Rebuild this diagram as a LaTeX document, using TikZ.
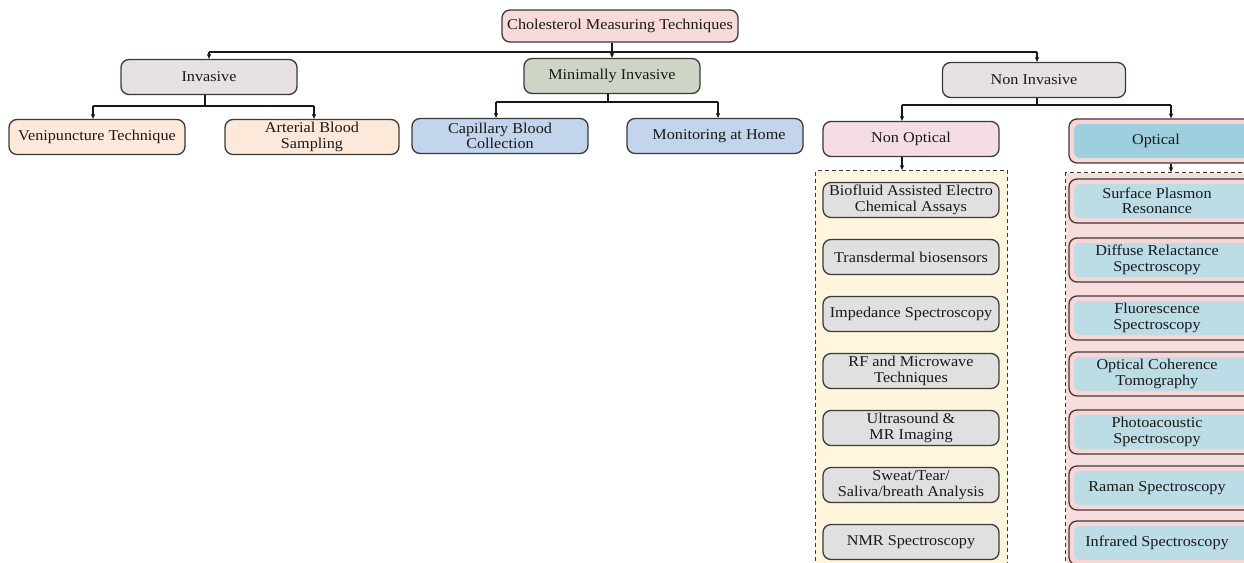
\documentclass[tikz,border=0pt]{standalone}
\usepackage{fontspec}
\setmainfont{Liberation Serif}[FakeStretch=1.08]
\usetikzlibrary{arrows.meta}
\definecolor{bd}{HTML}{3A3A3A}
\definecolor{rootc}{HTML}{F9DADA}
\definecolor{invc}{HTML}{E7E1E1}
\definecolor{minc}{HTML}{CDD6C6}
\definecolor{peach}{HTML}{FDE9DA}
\definecolor{capc}{HTML}{C3D4ED}
\definecolor{nonoc}{HTML}{F5DDE8}
\definecolor{grayc}{HTML}{E0E0E0}
\definecolor{yelc}{HTML}{FFF6DD}
\definecolor{pinkc}{HTML}{F7DDDD}
\definecolor{optout}{HTML}{F8D6D6}
\definecolor{opthead}{HTML}{9ECFDF}
\definecolor{optitem}{HTML}{BCDCE6}
\tikzset{
  box/.style={draw=bd, line width=1.3pt, rounded corners=8pt, minimum width=176pt,
    minimum height=35pt, inner sep=0pt, align=center,
    font=\fontsize{15}{15.5}\selectfont, text=black!90},
  optbox/.style={box, fill=optout, minimum height=44pt, minimum width=182pt,
    path picture={\fill[#1, rounded corners=6pt]
      ([shift={(5pt,-5pt)}]path picture bounding box.north west) rectangle
      ([shift={(-5pt,5pt)}]path picture bounding box.south east);}},
  conn/.style={draw=black!90, line width=1.4pt},
  arr/.style={conn, -{Stealth[length=5pt,width=4.5pt]}},
  dashbox/.style={draw=bd, line width=1.2pt, dash pattern=on 4pt off 3pt}
}
\begin{document}
\begin{tikzpicture}[x=1pt,y=-1pt]
\useasboundingbox (0,0) rectangle (1244,562);
\clip (0,0) rectangle (1244,562);
% dashed containers
\node[dashbox, fill=yelc, minimum width=192pt, minimum height=420pt, inner sep=0pt, anchor=north west] (yb) at (815,170) {};
\node[dashbox, fill=pinkc, minimum width=200pt, minimum height=420pt, inner sep=0pt, anchor=north west] (pb) at (1065,172) {};
% level 0
\node[box, fill=rootc, minimum width=236pt, minimum height=32pt] (root) at (620,26) {Cholesterol Measuring Techniques};
% level 1
\node[box, fill=invc] (inv) at (209,77) {Invasive};
\node[box, fill=minc] (mi) at (612,76) {Minimally Invasive};
\node[box, fill=invc, minimum width=183pt] (ni) at (1034,80) {Non Invasive};
% level 2
\node[box, fill=peach] (ven) at (97,137) {Venipuncture Technique};
\node[box, fill=peach, minimum width=174pt] (art) at (312,137) {Arterial Blood\\Sampling};
\node[box, fill=capc] (cap) at (500,136) {Capillary Blood\\Collection};
\node[box, fill=capc] (mon) at (715,136) {\hspace*{8pt}Monitoring at Home};
\node[box, fill=nonoc] (no) at (911,139) {Non Optical};
\node[optbox=opthead, minimum width=190pt] (op) at (1164,141) {\hspace*{-16pt}Optical};
% non optical items
\node[box, fill=grayc] (n1) at (911,200) {Biofluid Assisted Electro\\Chemical Assays};
\node[box, fill=grayc] (n2) at (911,257) {Transdermal biosensors};
\node[box, fill=grayc] (n3) at (911,314) {Impedance Spectroscopy};
\node[box, fill=grayc] (n4) at (911,371) {RF and Microwave\\Techniques};
\node[box, fill=grayc] (n5) at (911,428) {Ultrasound \&\\MR Imaging};
\node[box, fill=grayc] (n6) at (911,485) {Sweat/Tear/\\Saliva/breath Analysis};
\node[box, fill=grayc] (n7) at (911,542) {NMR Spectroscopy};
% optical items
\node[optbox=optitem, minimum width=190pt] (o1) at (1164,201) {\hspace*{-14pt}Surface Plasmon\\\hspace*{-14pt}Resonance};
\node[optbox=optitem, minimum width=190pt] (o2) at (1164,260) {\hspace*{-14pt}Diffuse Relactance\\\hspace*{-14pt}Spectroscopy};
\node[optbox=optitem, minimum width=190pt] (o3) at (1164,318) {\hspace*{-14pt}Fluorescence\\\hspace*{-14pt}Spectroscopy};
\node[optbox=optitem, minimum width=190pt] (o4) at (1164,374) {\hspace*{-14pt}Optical Coherence\\\hspace*{-14pt}Tomography};
\node[optbox=optitem, minimum width=190pt] (o5) at (1164,432) {\hspace*{-14pt}Photoacoustic\\\hspace*{-14pt}Spectroscopy};
\node[optbox=optitem, minimum width=190pt] (o6) at (1164,488) {\hspace*{-14pt}Raman Spectroscopy};
\node[optbox=optitem, minimum width=190pt] (o7) at (1164,543) {\hspace*{-14pt}Infrared Spectroscopy};
% connectors level 0 -> 1
\coordinate (b0) at (0,52);
\draw[conn] (inv.north |- b0) -- ([xshift=3pt]ni.north |- b0);
\draw[arr] (root.south -| mi.north) -- (mi.north);
\draw[arr] (inv.north |- b0) -- (inv.north);
\draw[arr] ([xshift=3pt]ni.north |- b0) -- ([xshift=3pt]ni.north);
% invasive
\coordinate (b1) at (0,106);
\draw[conn] ([xshift=-4pt]inv.south) -- ([xshift=-4pt]inv.south |- b1);
\draw[conn] ([xshift=-4pt]ven.north |- b1) -- ([xshift=2pt]art.north |- b1);
\draw[arr] ([xshift=-4pt]ven.north |- b1) -- ([xshift=-4pt]ven.north);
\draw[arr] ([xshift=2pt]art.north |- b1) -- ([xshift=2pt]art.north);
% minimally invasive
\coordinate (b2) at (0,102);
\draw[conn] ([xshift=-4pt]mi.south) -- ([xshift=-4pt]mi.south |- b2);
\draw[conn] ([xshift=-4pt]cap.north |- b2) -- ([xshift=3pt]mon.north |- b2);
\draw[arr] ([xshift=-4pt]cap.north |- b2) -- ([xshift=-4pt]cap.north);
\draw[arr] ([xshift=3pt]mon.north |- b2) -- ([xshift=3pt]mon.north);
% non invasive
\coordinate (b3) at (0,105);
\draw[conn] ([xshift=3pt]ni.south) -- ([xshift=3pt]ni.south |- b3);
\draw[conn] ([xshift=-9pt]no.north |- b3) -- ([xshift=7pt]op.north |- b3);
\draw[arr] ([xshift=-9pt]no.north |- b3) -- ([xshift=-9pt]no.north);
\draw[arr] ([xshift=7pt]op.north |- b3) -- ([xshift=7pt]op.north);
% to containers
\draw[arr] ([xshift=-9pt]no.south) -- ([xshift=-9pt]no.south |- yb.north);
\draw[arr] ([xshift=7pt]op.south) -- ([xshift=7pt]op.south |- pb.north);
\end{tikzpicture}
\end{document}
